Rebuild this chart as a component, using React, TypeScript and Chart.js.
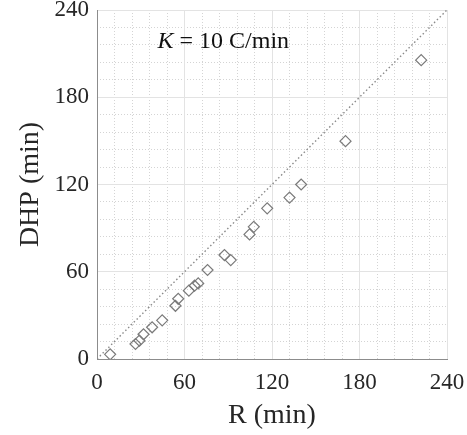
import React, { useEffect, useRef } from "react";
import { Chart, registerables } from "chart.js";

Chart.register(...registerables);

const rValues = [9.0, 26.4, 29.1, 31.9, 37.8, 44.7, 53.8, 55.7, 63.0, 66.9, 69.4, 75.8, 87.4, 91.7, 104.6, 107.5, 116.7, 132.0, 140.0, 170.4, 222.3];
const dhpValues = [3.2, 10.3, 12.6, 17.0, 21.8, 26.6, 36.6, 41.4, 47.0, 50.4, 52.0, 61.2, 71.5, 68.0, 85.7, 90.9, 103.6, 111.0, 120.0, 149.8, 205.5];
const lineX = [0, 240];
const lineY = [0, 240];
const axisMin = 0;
const axisMax = 240;
const majorStep = 60;
const minorStep = 12;
const xTitle = "R (min)";
const yTitle = "DHP (min)";
const annotK = "K";
const annotRest = " = 10 C/min";
const annotAt = [41.5, 214];

const FONT = "\"Liberation Serif\", \"Times New Roman\", Times, serif";
const TEXT = "#262626";

const zeroPad = (s: any) => {
  s.paddingTop = 0;
  s.paddingBottom = 0;
  s.paddingLeft = 0;
  s.paddingRight = 0;
};

const annotationPlugin = {
  id: "annot",
  afterDatasetsDraw(chart: any) {
    const { ctx, scales } = chart;
    const x = scales.x.getPixelForValue(annotAt[0]);
    const y = scales.y.getPixelForValue(annotAt[1]);
    ctx.save();
    ctx.fillStyle = "#111";
    ctx.textBaseline = "alphabetic";
    ctx.textAlign = "left";
    ctx.font = `italic 24px ${FONT}`;
    ctx.fillText(annotK, x, y);
    const w = ctx.measureText(annotK).width;
    ctx.font = `24px ${FONT}`;
    ctx.fillText(annotRest, x + w, y);
    ctx.restore();
  },
};

export default function App() {
  const ref = useRef<HTMLCanvasElement>(null);
  useEffect(() => {
    if (!ref.current) return;
    let chart: any = null;
    let cancelled = false;
    const make = () => {
      if (cancelled || !ref.current) return;
      chart = new Chart(ref.current, {
        type: "scatter",
        data: {
          datasets: [
            {
              type: "line",
              data: lineX.map((v, i) => ({ x: v, y: lineY[i] })),
              borderColor: "#8a8a8a",
              borderWidth: 1.4,
              borderDash: [1.5, 2.5],
              pointRadius: 0,
              fill: false,
              xAxisID: "x",
              yAxisID: "y",
            } as any,
            {
              data: rValues.map((v, i) => ({ x: v, y: dhpValues[i] })),
              pointStyle: "rectRot",
              pointRadius: 5.5,
              pointBorderWidth: 1.2,
              borderColor: "#7a7a7a",
              backgroundColor: "rgba(0,0,0,0)",
              pointBackgroundColor: "rgba(0,0,0,0)",
              pointBorderColor: "#7a7a7a",
              xAxisID: "x",
              yAxisID: "y",
            },
          ],
        },
        options: {
          animation: false,
          responsive: false,
          maintainAspectRatio: false,
          layout: { padding: { left: 0, top: 10, right: 20, bottom: 0 } },
          plugins: { legend: { display: false }, tooltip: { enabled: false } },
          scales: {
            xMinor: {
              type: "linear",
              position: "bottom",
              min: axisMin,
              max: axisMax,
              ticks: { stepSize: minorStep, display: false },
              grid: { color: "#d4d4d4", lineWidth: 1, drawTicks: false },
              border: { display: false, dash: [1, 2] },
              afterFit: (s: any) => {
                s.height = 0;
                zeroPad(s);
              },
            },
            yMinor: {
              type: "linear",
              position: "left",
              min: axisMin,
              max: axisMax,
              ticks: { stepSize: minorStep, display: false },
              grid: { color: "#d4d4d4", lineWidth: 1, drawTicks: false },
              border: { display: false, dash: [1, 2] },
              afterFit: (s: any) => {
                s.width = 0;
                zeroPad(s);
              },
            },
            x: {
              type: "linear",
              position: "bottom",
              min: axisMin,
              max: axisMax,
              ticks: {
                stepSize: majorStep,
                color: TEXT,
                font: { family: FONT, size: 23 },
                padding: 10,
                maxRotation: 0,
              },
              grid: { color: "#e3e3e3", lineWidth: 1, drawTicks: false },
              border: { display: true, color: "#8c8c8c", width: 1 },
              title: {
                display: true,
                text: xTitle,
                color: TEXT,
                font: { family: FONT, size: 28 },
                padding: { top: 0, bottom: 3 },
              },
              afterFit: (s: any) => {
                s.height = 76;
                zeroPad(s);
              },
            },
            y: {
              type: "linear",
              position: "left",
              min: axisMin,
              max: axisMax,
              ticks: {
                stepSize: majorStep,
                color: TEXT,
                font: { family: FONT, size: 23 },
                padding: 8,
              },
              grid: { color: "#e3e3e3", lineWidth: 1, drawTicks: false },
              border: { display: true, color: "#8c8c8c", width: 1 },
              title: {
                display: true,
                text: yTitle,
                color: TEXT,
                font: { family: FONT, size: 28 },
                padding: { top: 14, bottom: 0 },
              },
              afterFit: (s: any) => {
                s.width = 97;
                zeroPad(s);
              },
            },
          },
        } as any,
        plugins: [annotationPlugin],
      });
    };
    const fonts: any = (document as any).fonts;
    if (fonts && fonts.load) {
      Promise.all([
        fonts.load('23px "Liberation Serif"'),
        fonts.load('italic 24px "Liberation Serif"'),
      ]).then(make, make);
    } else {
      make();
    }
    return () => {
      cancelled = true;
      if (chart) chart.destroy();
    };
  }, []);
  return (
    <div style={{ position: "absolute", left: 0, top: 0, width: 467, height: 435, background: "#fff" }}>
      <canvas ref={ref} width={467} height={435} style={{ display: "block" }} />
    </div>
  );
}
